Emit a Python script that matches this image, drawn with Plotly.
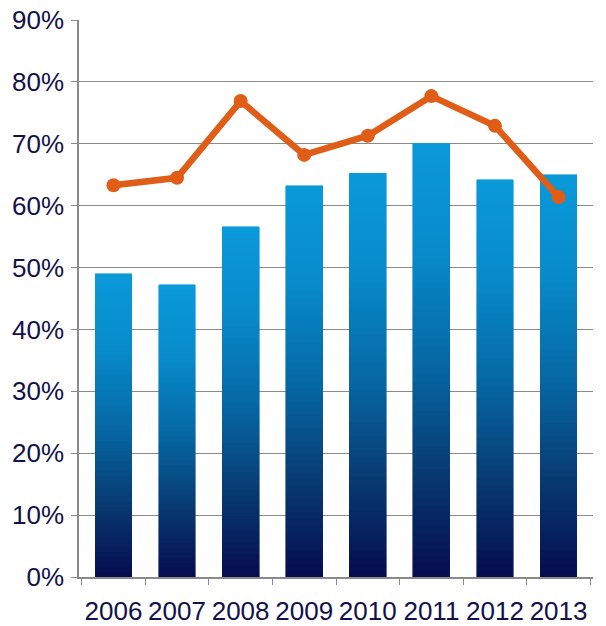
import plotly.graph_objects as go

years = ["2006", "2007", "2008", "2009", "2010", "2011", "2012", "2013"]
bar_values = [0.49, 0.472, 0.566, 0.632, 0.652, 0.701, 0.642, 0.650]
line_values = [0.633, 0.645, 0.769, 0.682, 0.713, 0.777, 0.729, 0.614]

# vertical gradient stops for the bars, bottom -> top
grad_stops = [(0.0, (6, 12, 80)), (0.25, (8, 60, 115)), (0.5, (6, 105, 165)),
              (0.75, (8, 138, 202)), (1.0, (10, 154, 218))]
n_slices = 60


def grad_color(t):
    for (t0, c0), (t1, c1) in zip(grad_stops[:-1], grad_stops[1:]):
        if t <= t1:
            f = (t - t0) / (t1 - t0)
            return "rgb(%d,%d,%d)" % tuple(round(a + (b - a) * f) for a, b in zip(c0, c1))
    return "rgb(%d,%d,%d)" % grad_stops[-1][1]


fig = go.Figure()

# each bar is built from equal stacked slices so the shading follows its height
for k in range(n_slices):
    col = grad_color((k + 0.5) / n_slices)
    fig.add_trace(go.Bar(
        x=years,
        y=[v / n_slices for v in bar_values],
        marker=dict(color=col, line=dict(width=0.6, color=col)),
        showlegend=False,
        hoverinfo="skip",
    ))

fig.add_trace(go.Scatter(
    x=years,
    y=line_values,
    mode="lines+markers",
    line=dict(color="#df5d17", width=6.5),
    marker=dict(color="#df5d17", size=14),
    showlegend=False,
))

tick_font = dict(family="Liberation Sans, Arial, sans-serif", size=26, color="#121249")

fig.update_layout(
    width=606,
    height=626,
    margin=dict(l=79, r=13, t=20, b=49),
    paper_bgcolor="white",
    plot_bgcolor="white",
    barmode="stack",
    bargap=0.42,
    xaxis=dict(
        type="category",
        automargin=False,
        showline=True,
        linecolor="#8a8a8a",
        linewidth=1.5,
        ticks="outside",
        tickson="boundaries",
        ticklen=6,
        tickcolor="#8a8a8a",
        tickfont=tick_font,
        tickangle=0,
        ticklabelstandoff=10,
        showgrid=False,
    ),
    yaxis=dict(
        range=[0, 0.9],
        dtick=0.1,
        tickformat=".0%",
        automargin=False,
        showline=True,
        linecolor="#8a8a8a",
        linewidth=1.5,
        ticks="outside",
        ticklen=6,
        tickcolor="#8a8a8a",
        showgrid=True,
        gridcolor="#8a8a8a",
        gridwidth=1,
        zeroline=False,
        tickfont=tick_font,
        ticklabelstandoff=2,
    ),
)

fig.write_html("out.html")
